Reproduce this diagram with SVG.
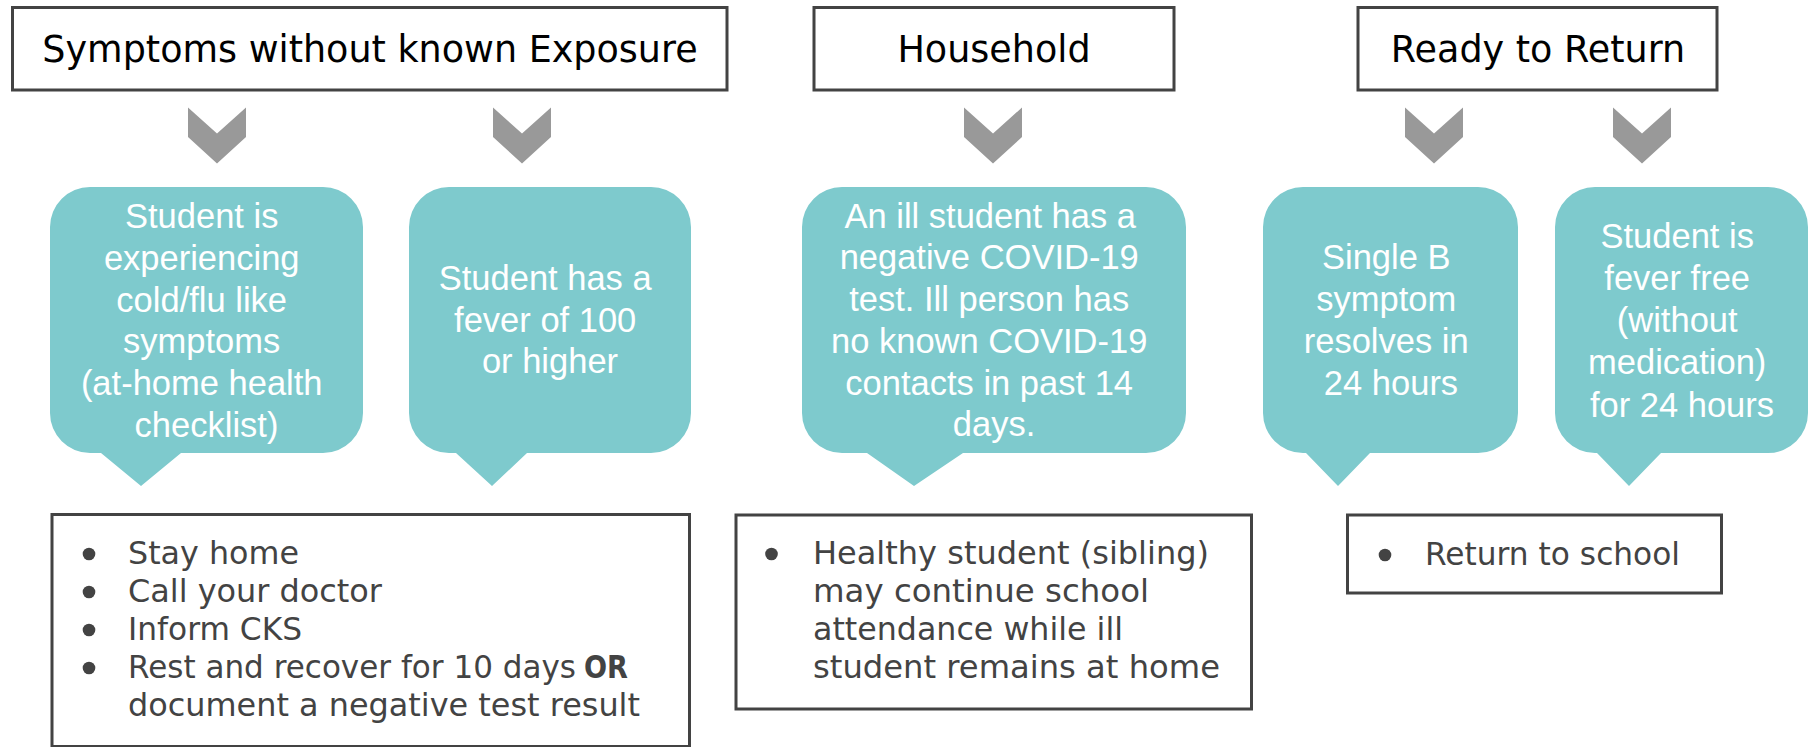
<svg xmlns="http://www.w3.org/2000/svg" width="1814" height="747" viewBox="0 0 1814 747">
  <style>
    .hdr { fill: #ffffff; stroke: #434343; stroke-width: 3; }
    .hdr-text { font-family: "DejaVu Sans", "Liberation Sans", sans-serif; font-size: 36.5px; fill: #000000; text-anchor: middle; }
    .bubble { fill: #7ECACD; }
    .bubble-text { font-family: "Liberation Sans", Arial, sans-serif; font-size: 34.5px; fill: #ffffff; text-anchor: middle; }
    .list { fill: #ffffff; stroke: #434343; stroke-width: 3; }
    .list-text { font-family: "DejaVu Sans", "Liberation Sans", sans-serif; font-size: 31.5px; fill: #434343; }
    .bold { font-weight: bold; }
    .dot { fill: #434343; }
    .chev { fill: #999999; }
  </style>
  <defs>
    <!-- downward chevron, origin at top centre -->
    <path id="chevron" d="M-29,0 L0,26 L29,0 L29,29.5 L0,56 L-29,29.5 Z"/>
  </defs>

  <rect width="1814" height="747" fill="#ffffff"/>

  <!-- header boxes -->
  <g id="hdr-symptoms">
    <rect class="hdr" x="12.5" y="7.5" width="714.5" height="82.5"/>
    <text class="hdr-text" x="370" y="62">Symptoms without known Exposure</text>
  </g>
  <g id="hdr-household">
    <rect class="hdr" x="814" y="7.5" width="360" height="82.5"/>
    <text class="hdr-text" x="994" y="62">Household</text>
  </g>
  <g id="hdr-ready">
    <rect class="hdr" x="1358" y="7.5" width="359" height="82.5"/>
    <text class="hdr-text" x="1538" y="62">Ready to Return</text>
  </g>

  <!-- chevron connectors -->
  <g id="connectors" class="chev">
    <use href="#chevron" x="217" y="107.5"/>
    <use href="#chevron" x="522" y="107.5"/>
    <use href="#chevron" x="993" y="107.5"/>
    <use href="#chevron" x="1434" y="107.5"/>
    <use href="#chevron" x="1642" y="107.5"/>
  </g>

  <!-- speech bubbles -->
  <g id="bubble-cold-flu">
    <path class="bubble" d="M90,187 H323 A40,40 0 0 1 363,227 V413 A40,40 0 0 1 323,453 H181 L141,486 L101,453 H90 A40,40 0 0 1 50,413 V227 A40,40 0 0 1 90,187 Z"/>
    <text class="bubble-text">
      <tspan x="206.5" y="228.3">Student is</tspan>
      <tspan x="206.5" y="270">experiencing</tspan>
      <tspan x="206.5" y="311.7">cold/flu like</tspan>
      <tspan x="206.5" y="353.4">symptoms</tspan>
      <tspan x="206.5" y="395.1">(at-home health</tspan>
      <tspan x="206.5" y="436.8">checklist)</tspan>
    </text>
  </g>
  <g id="bubble-fever">
    <path class="bubble" d="M449,187 H651 A40,40 0 0 1 691,227 V413 A40,40 0 0 1 651,453 H527 L492,486 L456,453 H449 A40,40 0 0 1 409,413 V227 A40,40 0 0 1 449,187 Z"/>
    <text class="bubble-text">
      <tspan x="550" y="290">Student has a</tspan>
      <tspan x="550" y="331.7">fever of 100</tspan>
      <tspan x="550" y="373.4">or higher</tspan>
    </text>
  </g>
  <g id="bubble-household">
    <path class="bubble" d="M842,187 H1146 A40,40 0 0 1 1186,227 V413 A40,40 0 0 1 1146,453 H963 L914,486 L867,453 H842 A40,40 0 0 1 802,413 V227 A40,40 0 0 1 842,187 Z"/>
    <text class="bubble-text">
      <tspan x="995" y="227.5">An ill student has a</tspan>
      <tspan x="994" y="269.3">negative COVID-19</tspan>
      <tspan x="994" y="311">test. Ill person has</tspan>
      <tspan x="994" y="352.8">no known COVID-19</tspan>
      <tspan x="994" y="394.5">contacts in past 14</tspan>
      <tspan x="994" y="436.3">days.</tspan>
    </text>
  </g>
  <g id="bubble-single-b">
    <path class="bubble" d="M1303,187 H1478 A40,40 0 0 1 1518,227 V413 A40,40 0 0 1 1478,453 H1370 L1338,486 L1306,453 H1303 A40,40 0 0 1 1263,413 V227 A40,40 0 0 1 1303,187 Z"/>
    <text class="bubble-text">
      <tspan x="1391" y="269.3">Single B</tspan>
      <tspan x="1391" y="311">symptom</tspan>
      <tspan x="1391" y="352.8">resolves in</tspan>
      <tspan x="1391" y="394.5">24 hours</tspan>
    </text>
  </g>
  <g id="bubble-fever-free">
    <path class="bubble" d="M1595,187 H1768 A40,40 0 0 1 1808,227 V413 A40,40 0 0 1 1768,453 H1661 L1629,486 L1597,453 H1595 A40,40 0 0 1 1555,413 V227 A40,40 0 0 1 1595,187 Z"/>
    <text class="bubble-text">
      <tspan x="1682" y="248.3">Student is</tspan>
      <tspan x="1682" y="290.3">fever free</tspan>
      <tspan x="1682" y="332.3">(without</tspan>
      <tspan x="1682" y="374.3">medication)</tspan>
      <tspan x="1682" y="416.5">for 24 hours</tspan>
    </text>
  </g>

  <!-- action lists -->
  <g id="list-symptoms">
    <rect class="list" x="52" y="514.5" width="637.5" height="232"/>
    <circle class="dot" cx="89" cy="554" r="6.3"/>
    <circle class="dot" cx="89" cy="592" r="6.3"/>
    <circle class="dot" cx="89" cy="630" r="6.3"/>
    <circle class="dot" cx="89" cy="668" r="6.3"/>
    <text class="list-text" x="128" y="564" textLength="171" lengthAdjust="spacingAndGlyphs">Stay home</text>
    <text class="list-text" x="128" y="602" textLength="254" lengthAdjust="spacingAndGlyphs">Call your doctor</text>
    <text class="list-text" x="128" y="640" textLength="174" lengthAdjust="spacingAndGlyphs">Inform CKS</text>
    <text class="list-text" x="128" y="678" textLength="448" lengthAdjust="spacingAndGlyphs">Rest and recover for 10 days</text>
    <text class="list-text bold" x="584" y="678" textLength="44" lengthAdjust="spacingAndGlyphs">OR</text>
    <text class="list-text" x="128" y="716" textLength="512" lengthAdjust="spacingAndGlyphs">document a negative test result</text>
  </g>
  <g id="list-household">
    <rect class="list" x="736" y="515" width="515.5" height="194"/>
    <circle class="dot" cx="771.5" cy="554" r="6.3"/>
    <text class="list-text" x="813" y="564" textLength="396" lengthAdjust="spacingAndGlyphs">Healthy student (sibling)</text>
    <text class="list-text" x="813" y="602" textLength="336" lengthAdjust="spacingAndGlyphs">may continue school</text>
    <text class="list-text" x="813" y="640" textLength="310" lengthAdjust="spacingAndGlyphs">attendance while ill</text>
    <text class="list-text" x="813" y="678" textLength="407" lengthAdjust="spacingAndGlyphs">student remains at home</text>
  </g>
  <g id="list-return">
    <rect class="list" x="1347.5" y="515" width="374" height="78"/>
    <circle class="dot" cx="1385" cy="555" r="6.3"/>
    <text class="list-text" x="1425" y="565" textLength="255" lengthAdjust="spacingAndGlyphs">Return to school</text>
  </g>
</svg>
